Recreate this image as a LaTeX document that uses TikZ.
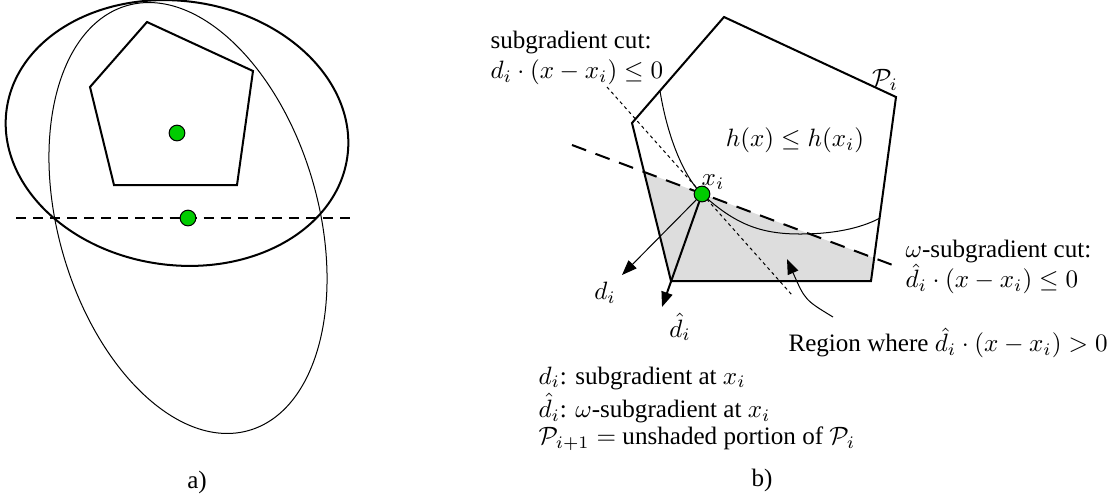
\documentclass[tikz,border=0pt]{standalone}
\usepackage{fontspec}
\setmainfont{Liberation Serif}
\usetikzlibrary{arrows.meta}
\definecolor{dotgreen}{RGB}{0,204,0}
\definecolor{shadegray}{RGB}{221,221,221}
\tikzset{
  iterdot/.style={circle,draw,thin,fill=dotgreen,inner sep=0pt,minimum size=0.22cm},
  lbl/.style={inner sep=0pt,align=left},
  hcut/.style={semithick,dash pattern=on 4pt off 2.8pt},
  wcut/.style={thick,dash pattern=on 6pt off 4pt},
  subcut/.style={thin,dash pattern=on 1.3pt off 1.3pt},
  vec/.style={-{Triangle[length=6pt,width=4.5pt]}},
}
\begin{document}
\begin{tikzpicture}[x=0.014cm,y=0.014cm]
  \useasboundingbox (0,0) rectangle (1110,-497);
  % a) two ellipsoids and a cut
  \coordinate (ca) at (177,-133);
  \coordinate (cb) at (188,-218);
  \draw[thick,rotate around={-8:(ca)}] (ca) ellipse [x radius=172,y radius=132];
  \draw[thin,rotate around={16:(cb)}] (cb) ellipse [x radius=130,y radius=221];
  \draw[thick] (147,-22) -- (253,-71) -- (237,-185) -- (114,-185) -- (90,-87) -- cycle;
  \draw[hcut] (16,-218) -- (352,-218);
  \node[iterdot] (ya) at (ca) {};
  \node[iterdot] (yb) at (cb) {};
  \node (capa) at (197,-482) {a)};

  % b) the polytope P_i
  \coordinate (p1) at (724,-17);
  \coordinate (p2) at (896,-97);
  \coordinate (p3) at (871,-281);
  \coordinate (p4) at (671,-281);
  \coordinate (p5) at (632,-123);
  \coordinate (ci) at (702,-194);
  \begin{scope}
    \clip (p1) -- (p2) -- (p3) -- (p4) -- (p5) -- cycle;
    \fill[shadegray] (572,-145) -- (898,-267) -- (898,-300) -- (572,-300) -- cycle;
  \end{scope}
  \draw[thick] (p1) -- (p2) -- (p3) -- (p4) -- (p5) -- cycle;
  \draw[thin] (660,-91) .. controls (668,-140) and (685,-178) .. (ci)
    .. controls (735,-224) and (760,-234) .. (800,-234)
    .. controls (840,-234) and (865,-226) .. (880,-218);
  \draw[wcut] (572,-145) -- (898,-267);
  \draw[subcut] (607,-87) -- (792,-295);
  \node[iterdot] (xi) at (ci) {};
  \coordinate (dtip) at (622,-275);
  \coordinate (dhtip) at (662,-307);
  \draw[vec,thin] (xi) -- (dtip);
  \draw[vec,thick] (xi) -- (dhtip);

  \node (xlab) at (713,-182) {$x_i$};
  \node (dlab) at (605,-293) {$d_i$};
  \node (dhlab) at (680,-327) {$\hat{d}_i$};
  \node (plab) at (885,-80) {$\mathcal{P}_i$};
  \node (hlab) at (795,-140) {$h(x)\le h(x_i)$};
  \node[lbl,anchor=west] (sublab) at (490,-58) {subgradient cut:\\ $d_i\cdot(x-x_i)\le 0$};
  \node[lbl,anchor=west] (wlab) at (905,-267) {$\omega$-subgradient cut:\\ $\hat{d}_i\cdot(x-x_i)\le 0$};
  \node[lbl,anchor=west] (rlab) at (788,-343) {Region where $\hat{d}_i\cdot(x-x_i)>0$};
  \coordinate (rtail) at (833,-317);
  \coordinate (rtip) at (787,-259);
  \draw[vec,thin] (rtail) .. controls (805,-300) .. (rtip);

  \foreach \n/\y/\lab in {1/378/{$d_i$: subgradient at $x_i$},
                          2/408/{$\hat{d}_i$: $\omega$-subgradient at $x_i$},
                          3/439/{$\mathcal{P}_{i+1}=$ unshaded portion of $\mathcal{P}_i$}} {
    \node[lbl,anchor=west] (leg\n) at (538,-\y) {\lab};
  }
  \node (capb) at (762,-480) {b)};
\end{tikzpicture}
\end{document}
